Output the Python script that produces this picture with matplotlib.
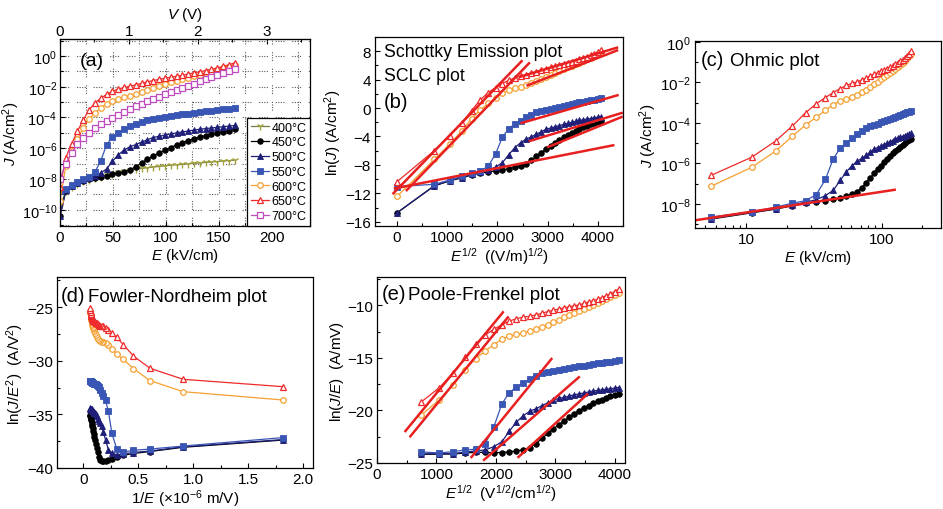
import numpy as np
import matplotlib
matplotlib.use('Agg')
import matplotlib.pyplot as plt
from matplotlib.ticker import FixedLocator, MultipleLocator, NullFormatter, FixedFormatter

plt.rcParams['font.family'] = ['Liberation Sans', 'DejaVu Sans']
plt.rcParams['mathtext.fontset'] = 'custom'
plt.rcParams['mathtext.rm'] = 'Liberation Sans'
plt.rcParams['mathtext.it'] = 'Liberation Sans:italic'
plt.rcParams['mathtext.bf'] = 'Liberation Sans:bold'
plt.rcParams['mathtext.default'] = 'regular'

# ---------------- data ----------------
E_kVcm = [0, 5.5, 11, 16.5, 22, 27.5, 33, 38.5, 44, 49.5, 55, 60.5, 66, 71.5, 77, 82.5,
          88, 93.5, 99, 104.5, 110, 115.5, 121, 126.5, 132, 137.5, 143, 148.5, 154, 159.5, 165]

temps = ['400°C', '450°C', '500°C', '550°C', '600°C', '650°C', '700°C']

# log10 of J (A/cm^2)
logJ_400 = [-9.8, -8.8, -8.5, -8.3, -8.15, -8.05, -7.95, -7.85, -7.75, -7.66, -7.57, -7.5, -7.43,
            -7.37, -7.31, -7.26, -7.22, -7.18, -7.14, -7.1, -7.07, -7.04, -7.01, -6.98, -6.95,
            -6.92, -6.89, -6.86, -6.83, -6.8, -6.77]
logJ_450 = [-10.4, -8.76, -8.45, -8.27, -8.1, -7.98, -7.9, -7.84, -7.78, -7.7, -7.62, -7.52, -7.4,
            -7.2, -6.95, -6.72, -6.5, -6.3, -6.12, -5.95, -5.78, -5.63, -5.5, -5.38, -5.27,
            -5.17, -5.08, -5.0, -4.92, -4.85, -4.78]
logJ_500 = [-10.4, -8.74, -8.43, -8.25, -8.06, -7.92, -7.8, -7.6, -7.34, -6.85, -6.42, -6.12, -5.9,
            -5.76, -5.6, -5.45, -5.3, -5.22, -5.15, -5.07, -5.0, -4.94, -4.88, -4.82, -4.76,
            -4.72, -4.68, -4.64, -4.6, -4.56, -4.52]
logJ_550 = [-8.8, -8.66, -8.4, -8.17, -7.97, -7.85, -7.55, -6.8, -5.78, -5.25, -4.98, -4.77, -4.57,
            -4.4, -4.27, -4.17, -4.1, -4.04, -3.98, -3.92, -3.86, -3.8, -3.75, -3.7, -3.65,
            -3.6, -3.56, -3.52, -3.48, -3.44, -3.4]
logJ_600 = [-9.4, -7.14, -6.2, -5.4, -4.66, -4.1, -3.72, -3.38, -3.1, -2.91, -2.8, -2.7, -2.6,
            -2.48, -2.36, -2.24, -2.1, -1.96, -1.83, -1.72, -1.62, -1.52, -1.42, -1.32, -1.22,
            -1.12, -1.02, -0.92, -0.8, -0.7, -0.6]
logJ_650 = [-8.5, -6.6, -5.7, -4.9, -4.15, -3.5, -3.05, -2.75, -2.5, -2.3, -2.15, -2.05, -1.97,
            -1.88, -1.78, -1.68, -1.6, -1.52, -1.45, -1.38, -1.32, -1.26, -1.18, -1.1, -1.03,
            -0.95, -0.87, -0.78, -0.68, -0.57, -0.45]
logJ_700 = [-8.0, -7.0, -6.3, -5.75, -5.35, -5.0, -4.7, -4.45, -4.22, -4.02, -3.82, -3.62, -3.42,
            -3.25, -3.1, -2.95, -2.8, -2.65, -2.5, -2.36, -2.22, -2.08, -1.94, -1.8, -1.66,
            -1.52, -1.38, -1.24, -1.1, -0.96, -0.82]

logJ_all = [logJ_400, logJ_450, logJ_500, logJ_550, logJ_600, logJ_650, logJ_700]

# fitted straight lines (x pair, y pair) in each panel's own units
fit_b_x = [[-74, 2481], [193, 2627], [2450, 4380], [2600, 4380], [2480, 4390],
           [2647, 4472], [3011, 4472], [-40, 4305]]
fit_b_y = [[-12.0, 6.6], [-11.55, 6.3], [4.4, 8.5], [3.2, 8.1], [-2.1, 1.8],
           [-4.63, -0.7], [-5.47, -1.26], [-11.3, -5.24]]
fit_c_x = [4.2, 125]
fit_c_y = [10 ** -8.82, 10 ** -7.31]
fit_e_x = [[478, 2117], [561, 2200], [1589, 2933], [1800, 3394], [2378, 3533]]
fit_e_y = [[-21.96, -10.66], [-22.46, -11.14], [-24.43, -15.1], [-24.7, -16.84], [-24.43, -18.48]]

# ---------------- styles ----------------
colors = ['#a3a33c', '#000000', '#1f1f7a', '#3a56b5', '#f5a030', '#ee2a2a', '#c04cc0']
markers = ['1', 'o', '^', 's', 'o', '^', 's']
filled = [True, True, True, True, False, False, False]
FIT = '#e82020'

fig = plt.figure(figsize=(9.43, 5.10), dpi=100)


def add_ax(x0, y0, x1, y1):
    return fig.add_axes([x0 / 943, 1 - y1 / 510, (x1 - x0) / 943, (y1 - y0) / 510])


axA = add_ax(60, 40, 310, 227)
axB = add_ax(375, 38, 623, 227)
axC = add_ax(695, 42, 941.5, 229)
axD = add_ax(57, 278, 313, 469)
axE = add_ax(377, 278, 625, 464)

TS = 11
for ax in (axA, axB, axC, axD, axE):
    ax.tick_params(which='both', direction='in', labelsize=TS, width=0.8, pad=3)
    ax.tick_params(which='major', length=3.5)
    ax.tick_params(which='minor', length=2)
    for s in ax.spines.values():
        s.set_linewidth(0.9)

E = np.array(E_kVcm, dtype=float)


def style(i, ms=4.0):
    kw = dict(color=colors[i], marker=markers[i], markersize=ms, lw=0.9,
              markeredgewidth=0.9 if not filled[i] else 0.6)
    if filled[i]:
        kw['markerfacecolor'] = colors[i]
    else:
        kw['markerfacecolor'] = 'white'
    if markers[i] == '1':
        kw['markersize'] = 6
        kw['markeredgewidth'] = 1.0
        kw['color'] = '#7a7a44'
        kw['markeredgecolor'] = colors[i]
    return kw


# ---------------- (a) ----------------
handles = []
for i, lj in enumerate(logJ_all):
    J = 10 ** np.array(lj)
    h, = axA.semilogy(E, J, label=temps[i], **style(i))
    handles.append(h)
axA.set_xlim(0, 236)
axA.set_ylim(10 ** -11.05, 10 ** 1.1)
axA.tick_params(axis='y', labelsize=10.5, pad=2)
axA.xaxis.set_major_locator(FixedLocator([0, 50, 100, 150, 200]))
axA.xaxis.set_minor_locator(MultipleLocator(25))
axA.yaxis.set_major_locator(FixedLocator([1e-10, 1e-8, 1e-6, 1e-4, 1e-2, 1e0]))
axA.yaxis.set_major_formatter(FixedFormatter(['$10^{-10}$', '$10^{-8}$', '$10^{-6}$',
                                              '$10^{-4}$', '$10^{-2}$', '$10^{0}$']))
axA.yaxis.set_minor_locator(FixedLocator([10.0 ** k for k in range(-11, 2)]))
axA.yaxis.set_minor_formatter(NullFormatter())
axA.grid(True, which='both', color='0.35', lw=0.8, linestyle=(0, (1, 1.3, 1, 1.3, 1, 1.3, 1, 7)))
axA.set_axisbelow(True)
axA.set_xlabel('$\\mathit{E}$ (kV/cm)', fontsize=TS, labelpad=1)
axA.set_ylabel('$\\mathit{J}$ (A/cm$^2$)', fontsize=TS, labelpad=0)
axA.text(0.08, 0.93, '(a)', transform=axA.transAxes, fontsize=14, va='top', ha='left')
sec = axA.secondary_xaxis('top', functions=(lambda e: e / 65.0, lambda v: v * 65.0))
sec.xaxis.set_major_locator(FixedLocator([0, 1, 2, 3]))
sec.xaxis.set_minor_locator(MultipleLocator(0.5))
sec.tick_params(which='both', direction='in', labelsize=TS, width=0.8, pad=1)
sec.set_xlabel('$\\mathit{V}$ (V)', fontsize=TS, labelpad=4)
leg = axA.legend(handles=handles, loc='lower right', bbox_to_anchor=(1.0, 0.0), fontsize=9,
                 frameon=True, fancybox=False, edgecolor='black', framealpha=1,
                 handlelength=1.5, handletextpad=0.15, labelspacing=0.22, borderpad=0.3,
                 borderaxespad=0.0)
leg.get_frame().set_linewidth(0.9)

# ---------------- (b) ----------------
sel = [1, 2, 3, 4, 5]
for i in sel:
    J = 10 ** np.array(logJ_all[i]) * 1e4
    axB.plot(np.sqrt(E * 1e5), np.log(J), **style(i))
for xs, ys in zip(fit_b_x, fit_b_y):
    axB.plot(xs, ys, color=FIT, lw=1.8)
axB.set_xlim(-440, 4500)
axB.set_ylim(-16.6, 10)
axB.xaxis.set_major_locator(FixedLocator([0, 1000, 2000, 3000, 4000]))
axB.xaxis.set_minor_locator(MultipleLocator(500))
axB.yaxis.set_major_locator(FixedLocator([-16, -12, -8, -4, 0, 4, 8]))
axB.yaxis.set_minor_locator(MultipleLocator(2))
axB.set_xlabel('$\\mathit{E}^{1/2}$  ((V/m)$^{1/2}$)', fontsize=TS, labelpad=1)
axB.set_ylabel('ln($\\mathit{J}$) (A/cm$^2$)', fontsize=TS, labelpad=1)
axB.text(0.035, 0.925, 'Schottky Emission plot', transform=axB.transAxes, fontsize=12.8,
         va='center', ha='left')
axB.text(0.035, 0.795, 'SCLC plot', transform=axB.transAxes, fontsize=12.8,
         va='center', ha='left')
axB.text(0.035, 0.66, '(b)', transform=axB.transAxes, fontsize=14.5, va='center', ha='left')

# ---------------- (c) ----------------
pos = E > 0
for i in sel:
    J = 10 ** np.array(logJ_all[i])
    axC.loglog(E[pos], J[pos], **style(i))
axC.plot(fit_c_x, fit_c_y, color=FIT, lw=1.8)
axC.set_xlim(4.2, 277)
axC.set_ylim(10 ** -9.2, 10 ** 0.05)
axC.yaxis.set_major_locator(FixedLocator([1e-8, 1e-6, 1e-4, 1e-2, 1e0]))
axC.yaxis.set_major_formatter(FixedFormatter(['$10^{-8}$', '$10^{-6}$', '$10^{-4}$',
                                              '$10^{-2}$', '$10^{0}$']))
axC.yaxis.set_minor_locator(FixedLocator([10.0 ** k for k in range(-9, 1)]))
axC.yaxis.set_minor_formatter(NullFormatter())
axC.xaxis.set_major_locator(FixedLocator([10, 100]))
axC.xaxis.set_major_formatter(FixedFormatter(['10', '100']))
axC.xaxis.set_minor_locator(FixedLocator([5, 6, 7, 8, 9, 20, 30, 40, 50, 60, 70, 80, 90, 200]))
axC.xaxis.set_minor_formatter(NullFormatter())
axC.set_xlabel('$\\mathit{E}$ (kV/cm)', fontsize=TS, labelpad=1)
axC.set_ylabel('$\\mathit{J}$ (A/cm$^2$)', fontsize=TS, labelpad=1)
axC.text(0.025, 0.9, '(c)', transform=axC.transAxes, fontsize=14.5, va='center', ha='left')
axC.text(0.14, 0.895, 'Ohmic plot', transform=axC.transAxes, fontsize=13.5, va='center', ha='left')

# ---------------- (d) ----------------
for i in sel:
    J = 10 ** np.array(logJ_all[i])[pos] * 1e4
    Ev = E[pos] * 1e5
    axD.plot(1e6 / Ev, np.log(J / Ev ** 2), **style(i))
axD.set_xlim(-0.24, 2.09)
axD.set_ylim(-40, -22.2)
axD.xaxis.set_major_locator(FixedLocator([0, 0.5, 1.0, 1.5, 2.0]))
axD.xaxis.set_major_formatter(FixedFormatter(['0', '0.5', '1.0', '1.5', '2.0']))
axD.xaxis.set_minor_locator(MultipleLocator(0.25))
axD.yaxis.set_major_locator(FixedLocator([-40, -35, -30, -25]))
axD.yaxis.set_minor_locator(MultipleLocator(2.5))
axD.set_xlabel('1/$\\mathit{E}$ (×10$^{-6}$ m/V)', fontsize=TS, labelpad=1)
axD.set_ylabel('ln($\\mathit{J}$/$\\mathit{E}^2$)  (A/V$^2$)', fontsize=TS, labelpad=1)
axD.text(0.015, 0.905, '(d)', transform=axD.transAxes, fontsize=14.5, va='center', ha='left')
axD.text(0.12, 0.9, 'Fowler-Nordheim plot', transform=axD.transAxes, fontsize=13.5,
         va='center', ha='left')

# ---------------- (e) ----------------
for i in sel:
    J = 10 ** np.array(logJ_all[i])[pos] * 1e4
    Ev = E[pos] * 1e5
    axE.plot(np.sqrt(Ev), np.log(J / Ev), **style(i))
for xs, ys in zip(fit_e_x, fit_e_y):
    axE.plot(xs, ys, color=FIT, lw=1.8)
axE.set_xlim(0, 4170)
axE.set_ylim(-25, -7.3)
axE.xaxis.set_major_locator(FixedLocator([0, 1000, 2000, 3000, 4000]))
axE.xaxis.set_minor_locator(MultipleLocator(500))
axE.yaxis.set_major_locator(FixedLocator([-25, -20, -15, -10]))
axE.yaxis.set_minor_locator(MultipleLocator(2.5))
axE.set_xlabel('$\\mathit{E}^{1/2}$  (V$^{1/2}$/cm$^{1/2}$)', fontsize=TS, labelpad=1)
axE.set_ylabel('ln($\\mathit{J}$/$\\mathit{E}$)  (A/mV)', fontsize=TS, labelpad=1)
axE.text(0.02, 0.91, '(e)', transform=axE.transAxes, fontsize=14.5, va='center', ha='left')
axE.text(0.125, 0.905, 'Poole-Frenkel plot', transform=axE.transAxes, fontsize=13.5,
         va='center', ha='left')

fig.savefig('out.png', dpi=100)
